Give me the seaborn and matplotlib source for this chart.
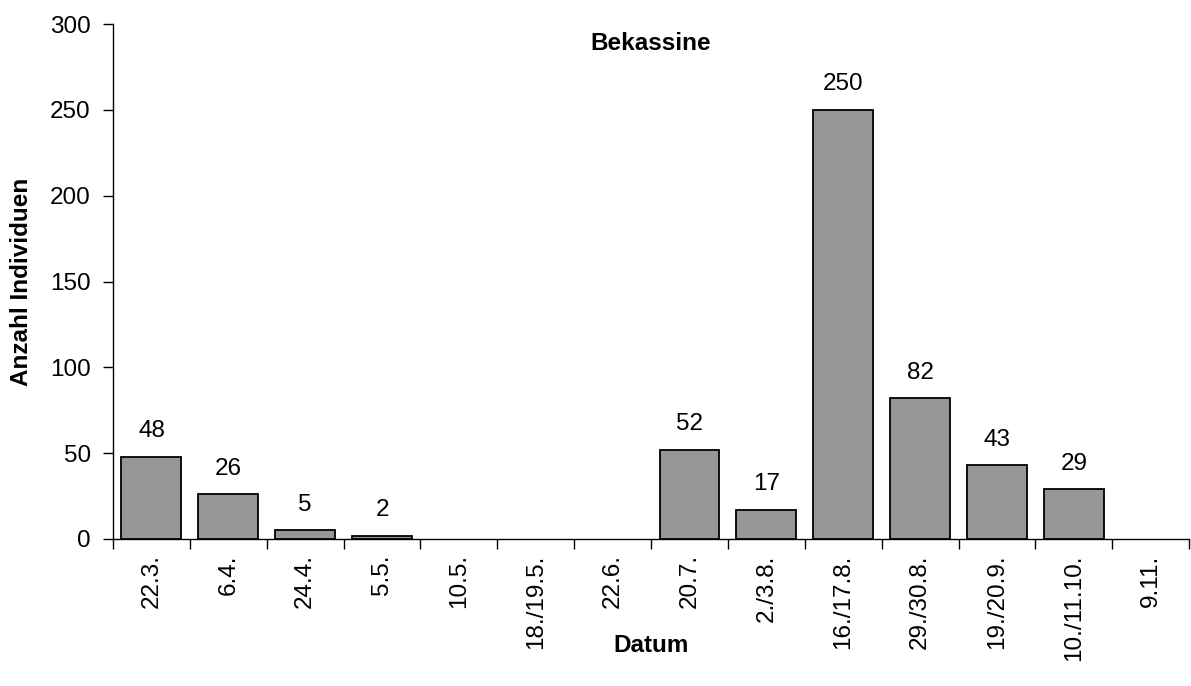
import matplotlib
matplotlib.use('Agg')
import matplotlib.pyplot as plt
from matplotlib.ticker import FixedLocator, MultipleLocator
import pandas as pd
import seaborn as sns

datum = ["22.3.", "6.4.", "24.4.", "5.5.", "10.5.", "18./19.5.", "22.6.", "20.7.",
         "2./3.8.", "16./17.8.", "29./30.8.", "19./20.9.", "10./11.10.", "9.11."]
anzahl = [48, 26, 5, 2, 0, 0, 0, 52, 17, 250, 82, 43, 29, 0]

df = pd.DataFrame({"Datum": datum, "Anzahl": anzahl})

sns.set_style("ticks")
plt.rcParams['font.family'] = ['Liberation Sans', 'DejaVu Sans']
for k in ["text.color", "axes.labelcolor", "xtick.color", "ytick.color"]:
    plt.rcParams[k] = "black"
fs = 17.5

fig = plt.figure(figsize=(11.91, 6.86), dpi=100)
ax = fig.add_axes([0.0949, 0.2143, 0.9035, 0.7507])

sns.barplot(data=df, x="Datum", y="Anzahl", color="#969696", saturation=1,
            width=0.78, edgecolor="black", linewidth=1.3, ax=ax)

# leere Termine: keinen Rand zeichnen
for bar, v in zip(ax.patches, anzahl):
    if v == 0:
        bar.set_linewidth(0)

for i, v in enumerate(anzahl):
    if v > 0:
        ax.annotate(str(v), (i, v), xytext=(0, 14), textcoords="offset points",
                    ha="center", va="baseline", fontsize=fs)

ax.set_xlim(-0.5, len(datum) - 0.5)
ax.set_ylim(0, 300)
ax.yaxis.set_major_locator(MultipleLocator(50))

ax.xaxis.set_minor_locator(FixedLocator([i - 0.5 for i in range(len(datum) + 1)]))
ax.tick_params(axis="x", which="major", length=0, pad=11, labelsize=fs, labelrotation=90)
ax.tick_params(axis="x", which="minor", length=7, width=1, color="black", direction="out")
ax.tick_params(axis="y", which="major", length=7, width=1, color="black", labelsize=fs, pad=9)

for s in ["top", "right"]:
    ax.spines[s].set_visible(False)
for s in ["left", "bottom"]:
    ax.spines[s].set_color("black")
    ax.spines[s].set_linewidth(1)

ax.set_xlabel("Datum", fontsize=fs, fontweight="bold", va="center")
ax.xaxis.set_label_coords(0.5, -0.206)
ax.set_ylabel("Anzahl Individuen", fontsize=fs, fontweight="bold", va="center")
ax.yaxis.set_label_coords(-0.085, 0.5)

ax.text(0.5, 0.963, "Bekassine", transform=ax.transAxes, ha="center", va="center",
        fontsize=fs, fontweight="bold")

fig.savefig("out.png", dpi=100)
